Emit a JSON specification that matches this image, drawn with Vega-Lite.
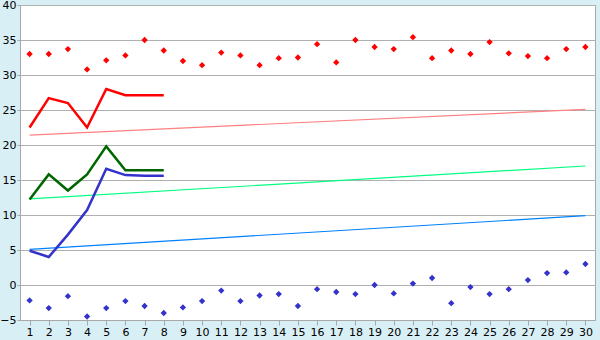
{
  "$schema": "https://vega.github.io/schema/vega-lite/v6.json",
  "width": 575,
  "height": 315,
  "autosize": {"type": "none"},
  "padding": {"left": 20, "top": 5, "right": 5, "bottom": 20},
  "background": "#D9EFF6",
  "config": {
    "view": {"fill": "white", "stroke": "#A8A8A8", "strokeWidth": 1},
    "font": "DejaVu Sans",
    "axis": {"labelFont": "DejaVu Sans", "labelFontSize": 11, "labelColor": "#000000", "domainColor": "#A8A8A8", "tickColor": "#A8A8A8", "gridColor": "#B0B0B0", "title": null}
  },
  "datasets": {
    "markers": [
      {"day": 1, "s": "hi", "v": 33.0}, {"day": 2, "s": "hi", "v": 33.0}, {"day": 3, "s": "hi", "v": 33.7}, {"day": 4, "s": "hi", "v": 30.8}, {"day": 5, "s": "hi", "v": 32.1},
      {"day": 6, "s": "hi", "v": 32.8}, {"day": 7, "s": "hi", "v": 35.0}, {"day": 8, "s": "hi", "v": 33.5}, {"day": 9, "s": "hi", "v": 32.0}, {"day": 10, "s": "hi", "v": 31.4},
      {"day": 11, "s": "hi", "v": 33.2}, {"day": 12, "s": "hi", "v": 32.8}, {"day": 13, "s": "hi", "v": 31.4}, {"day": 14, "s": "hi", "v": 32.4}, {"day": 15, "s": "hi", "v": 32.5},
      {"day": 16, "s": "hi", "v": 34.4}, {"day": 17, "s": "hi", "v": 31.8}, {"day": 18, "s": "hi", "v": 35.0}, {"day": 19, "s": "hi", "v": 34.0}, {"day": 20, "s": "hi", "v": 33.7},
      {"day": 21, "s": "hi", "v": 35.4}, {"day": 22, "s": "hi", "v": 32.4}, {"day": 23, "s": "hi", "v": 33.5}, {"day": 24, "s": "hi", "v": 33.0}, {"day": 25, "s": "hi", "v": 34.7},
      {"day": 26, "s": "hi", "v": 33.1}, {"day": 27, "s": "hi", "v": 32.7}, {"day": 28, "s": "hi", "v": 32.4}, {"day": 29, "s": "hi", "v": 33.7}, {"day": 30, "s": "hi", "v": 34.0},
      {"day": 1, "s": "lo", "v": -2.2}, {"day": 2, "s": "lo", "v": -3.3}, {"day": 3, "s": "lo", "v": -1.6}, {"day": 4, "s": "lo", "v": -4.5}, {"day": 5, "s": "lo", "v": -3.3},
      {"day": 6, "s": "lo", "v": -2.3}, {"day": 7, "s": "lo", "v": -3.0}, {"day": 8, "s": "lo", "v": -4.0}, {"day": 9, "s": "lo", "v": -3.2}, {"day": 10, "s": "lo", "v": -2.3},
      {"day": 11, "s": "lo", "v": -0.8}, {"day": 12, "s": "lo", "v": -2.3}, {"day": 13, "s": "lo", "v": -1.5}, {"day": 14, "s": "lo", "v": -1.3}, {"day": 15, "s": "lo", "v": -3.0},
      {"day": 16, "s": "lo", "v": -0.6}, {"day": 17, "s": "lo", "v": -1.0}, {"day": 18, "s": "lo", "v": -1.3}, {"day": 19, "s": "lo", "v": 0.0}, {"day": 20, "s": "lo", "v": -1.2},
      {"day": 21, "s": "lo", "v": 0.2}, {"day": 22, "s": "lo", "v": 1.0}, {"day": 23, "s": "lo", "v": -2.6}, {"day": 24, "s": "lo", "v": -0.3}, {"day": 25, "s": "lo", "v": -1.3},
      {"day": 26, "s": "lo", "v": -0.6}, {"day": 27, "s": "lo", "v": 0.7}, {"day": 28, "s": "lo", "v": 1.7}, {"day": 29, "s": "lo", "v": 1.8}, {"day": 30, "s": "lo", "v": 3.0}
    ],
    "lines": [
      {"day": 1, "s": "red", "v": 22.5}, {"day": 2, "s": "red", "v": 26.7}, {"day": 3, "s": "red", "v": 26.0}, {"day": 4, "s": "red", "v": 22.5},
      {"day": 5, "s": "red", "v": 28.0}, {"day": 6, "s": "red", "v": 27.1}, {"day": 7, "s": "red", "v": 27.1}, {"day": 8, "s": "red", "v": 27.1},
      {"day": 1, "s": "green", "v": 12.2}, {"day": 2, "s": "green", "v": 15.8}, {"day": 3, "s": "green", "v": 13.5}, {"day": 4, "s": "green", "v": 15.8},
      {"day": 5, "s": "green", "v": 19.8}, {"day": 6, "s": "green", "v": 16.4}, {"day": 7, "s": "green", "v": 16.4}, {"day": 8, "s": "green", "v": 16.4},
      {"day": 1, "s": "blue", "v": 4.9}, {"day": 2, "s": "blue", "v": 4.0}, {"day": 3, "s": "blue", "v": 7.2}, {"day": 4, "s": "blue", "v": 10.7},
      {"day": 5, "s": "blue", "v": 16.6}, {"day": 6, "s": "blue", "v": 15.7}, {"day": 7, "s": "blue", "v": 15.6}, {"day": 8, "s": "blue", "v": 15.6}
    ],
    "trends": [
      {"day": 1, "s": "pink", "v": 21.4}, {"day": 30, "s": "pink", "v": 25.1},
      {"day": 1, "s": "lime", "v": 12.3}, {"day": 30, "s": "lime", "v": 17.0},
      {"day": 1, "s": "sky", "v": 5.1}, {"day": 30, "s": "sky", "v": 9.9}
    ]
  },
  "encoding": {
    "x": {
      "field": "day", "type": "ordinal",
      "scale": {"domain": [1,2,3,4,5,6,7,8,9,10,11,12,13,14,15,16,17,18,19,20,21,22,23,24,25,26,27,28,29,30], "paddingInner": 0, "paddingOuter": 0},
      "axis": {"labelAngle": 0, "tickSize": 5, "labelPadding": 1, "domain": true, "grid": false}
    },
    "y": {
      "field": "v", "type": "quantitative",
      "scale": {"domain": [-5, 40], "nice": false, "zero": false},
      "axis": {"values": [-5,0,5,10,15,20,25,30,35,40], "tickSize": 3, "labelPadding": 1, "grid": true}
    }
  },
  "layer": [
    {
      "data": {"name": "trends"},
      "mark": {"type": "line", "strokeWidth": 1.2},
      "encoding": {
        "color": {"field": "s", "type": "nominal", "scale": {"domain": ["pink", "lime", "sky"], "range": ["#FF8080", "#00FF80", "#0080FF"]}, "legend": null},
        "detail": {"field": "s"}
      }
    },
    {
      "data": {"name": "lines"},
      "mark": {"type": "line", "strokeWidth": 2.5},
      "encoding": {
        "stroke": {"field": "s", "type": "nominal", "scale": {"domain": ["red", "green", "blue"], "range": ["#FF0000", "#006600", "#3333CC"]}, "legend": null},
        "detail": {"field": "s"}
      }
    },
    {
      "data": {"name": "markers"},
      "mark": {"type": "point", "shape": "diamond", "filled": true, "size": 40, "opacity": 1},
      "encoding": {
        "fill": {"field": "s", "type": "nominal", "scale": {"domain": ["hi", "lo"], "range": ["#FF0000", "#3333CC"]}, "legend": null}
      }
    }
  ],
  "resolve": {"scale": {"color": "independent", "stroke": "independent", "fill": "independent"}}
}
